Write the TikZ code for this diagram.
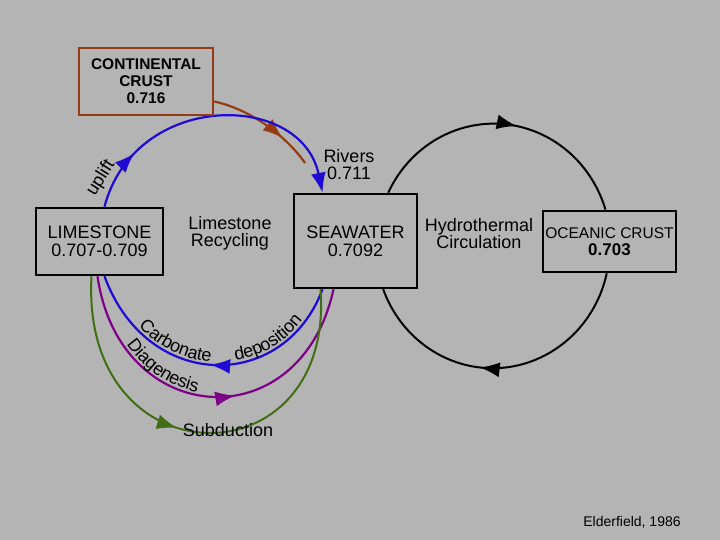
\documentclass[tikz,border=0pt]{standalone}
\usepackage{fontspec}
\setmainfont{Liberation Sans}
\usetikzlibrary{arrows.meta,decorations.markings,decorations.text}
\pgfdeclarelayer{canvas}
\pgfdeclarelayer{links}
\pgfsetlayers{canvas,links,main}
\definecolor{bggray}{RGB}{180,180,180}
\definecolor{riverbrown}{RGB}{150,60,20}
\definecolor{cycleblue}{RGB}{30,10,210}
\definecolor{diagpurple}{RGB}{125,0,135}
\definecolor{subgreen}{RGB}{65,110,20}
\def\setfs#1#2{\fontsize{#1}{#2}\selectfont}
\def\curvefont{\setfs{18}{20}}
\tikzset{
	reservoir/.style={draw=black, line width=2.5pt, fill=bggray, align=center, inner sep=0pt},
	note/.style={align=center, inner sep=0pt, font=\setfs{18}{17}},
	flow/.style={line width=2.2pt},
	tipat/.style={postaction={decorate}, decoration={markings, mark=at position #1 with {\arrow{Latex[length=20pt,width=15pt]}}}}
}

\begin{document}
\begin{tikzpicture}[x=1pt, y=1pt]
		%%%%% START %%%%%
		\useasboundingbox (0,0) rectangle (720,540);
		\begin{pgfonlayer}{canvas}
			\fill[bggray] (0,0) rectangle (720,540);
		\end{pgfonlayer}
		
		% reservoirs
		\node[reservoir, draw=riverbrown, minimum width=134pt, minimum height=67pt, font=\bfseries\setfs{15.5}{17}] (cont) at (146, 458.5) {CONTINENTAL\\CRUST\\0.716};
		\node[reservoir, minimum width=127pt, minimum height=67pt, font=\setfs{18}{18}] (lime) at (99.5, 298.5) {LIMESTONE\\0.707-0.709};
		\node[reservoir, minimum width=123pt, minimum height=94pt, font=\setfs{18}{18}] (sea) at (355.5, 299) {SEAWATER\\0.7092};
		\node[reservoir, minimum width=133pt, minimum height=61pt, font=\setfs{15.5}{17}] (ocean) at (609.5, 298.5) {OCEANIC CRUST\\\textbf{\setfs{17}{17}0.703}};
		
		% fluxes
		\begin{pgfonlayer}{links}
			\coordinate (riv) at (305, 377);
			\draw[flow, riverbrown, tipat=0.7] ([yshift=-20pt]cont.east) .. controls (253, 430) and (288, 401.6) .. (riv);
			\draw[flow, cycleblue, tipat=0.21, -{Latex[length=20pt,width=15pt]}] ([xshift=5pt]lime.north) .. controls (135, 449.3) and (301, 449.3) .. ([xshift=-33pt]sea.north);
			\draw[flow, cycleblue, tipat=0.5] ([xshift=-33pt]sea.south) .. controls (284, 147.5) and (147, 147.5) .. ([xshift=5pt]lime.south);
			\draw[flow, diagpurple, tipat=0.57] ([xshift=-2pt]lime.south) .. controls (119.5, 110.6) and (300.5, 99.6) .. ([xshift=-22pt]sea.south);
			\draw[flow, subgreen, line width=2pt, tipat=0.44] ([xshift=-8pt]lime.south) .. controls (80, 57) and (335, 57) .. ([xshift=-35pt]sea.south);
			\draw[line width=2pt, tipat=0.55] ([xshift=-30pt]sea.north east) arc[start angle=154.3, end angle=17.2, x radius=117, y radius=122];
			\draw[line width=2pt, tipat=0.57] ([xshift=65pt]ocean.south west) arc[start angle=-12.8, end angle=-159.4, x radius=117, y radius=122];
		\end{pgfonlayer}
		
		% curved labels
		\path[decorate, decoration={text along path, raise=3pt, text align={left indent=62pt}, text={|\curvefont|Carbonate}}] ([xshift=5pt]lime.south) .. controls (147, 147.5) and (284, 147.5) .. ([xshift=-33pt]sea.south);
		\path[decorate, decoration={text along path, raise=3pt, text align={left indent=172pt}, text={|\curvefont|deposition}}] ([xshift=5pt]lime.south) .. controls (147, 147.5) and (284, 147.5) .. ([xshift=-33pt]sea.south);
		\path[decorate, decoration={text along path, raise=3pt, text align={left indent=76pt}, text={|\curvefont|Diagenesis}}] ([xshift=-2pt]lime.south) .. controls (119.5, 110.6) and (300.5, 99.6) .. ([xshift=-22pt]sea.south);
		
		% labels
		\node[note, rotate=58] (upl) at (101, 362) {uplift};
		\node[note] (recyc) at (230, 306.5) {Limestone\\Recycling};
		\node[note] (rivl) at (349, 375) {Rivers\\0.711};
		\node[note] (hydro) at (479, 306.5) {Hydrothermal\\Circulation};
		\node[note] (subd) at (228, 110) {Subduction};
		\node[note, font=\setfs{14}{14}] (cite) at (632, 18) {Elderfield, 1986};
		%%%%% END %%%%%
\end{tikzpicture}
\end{document}
